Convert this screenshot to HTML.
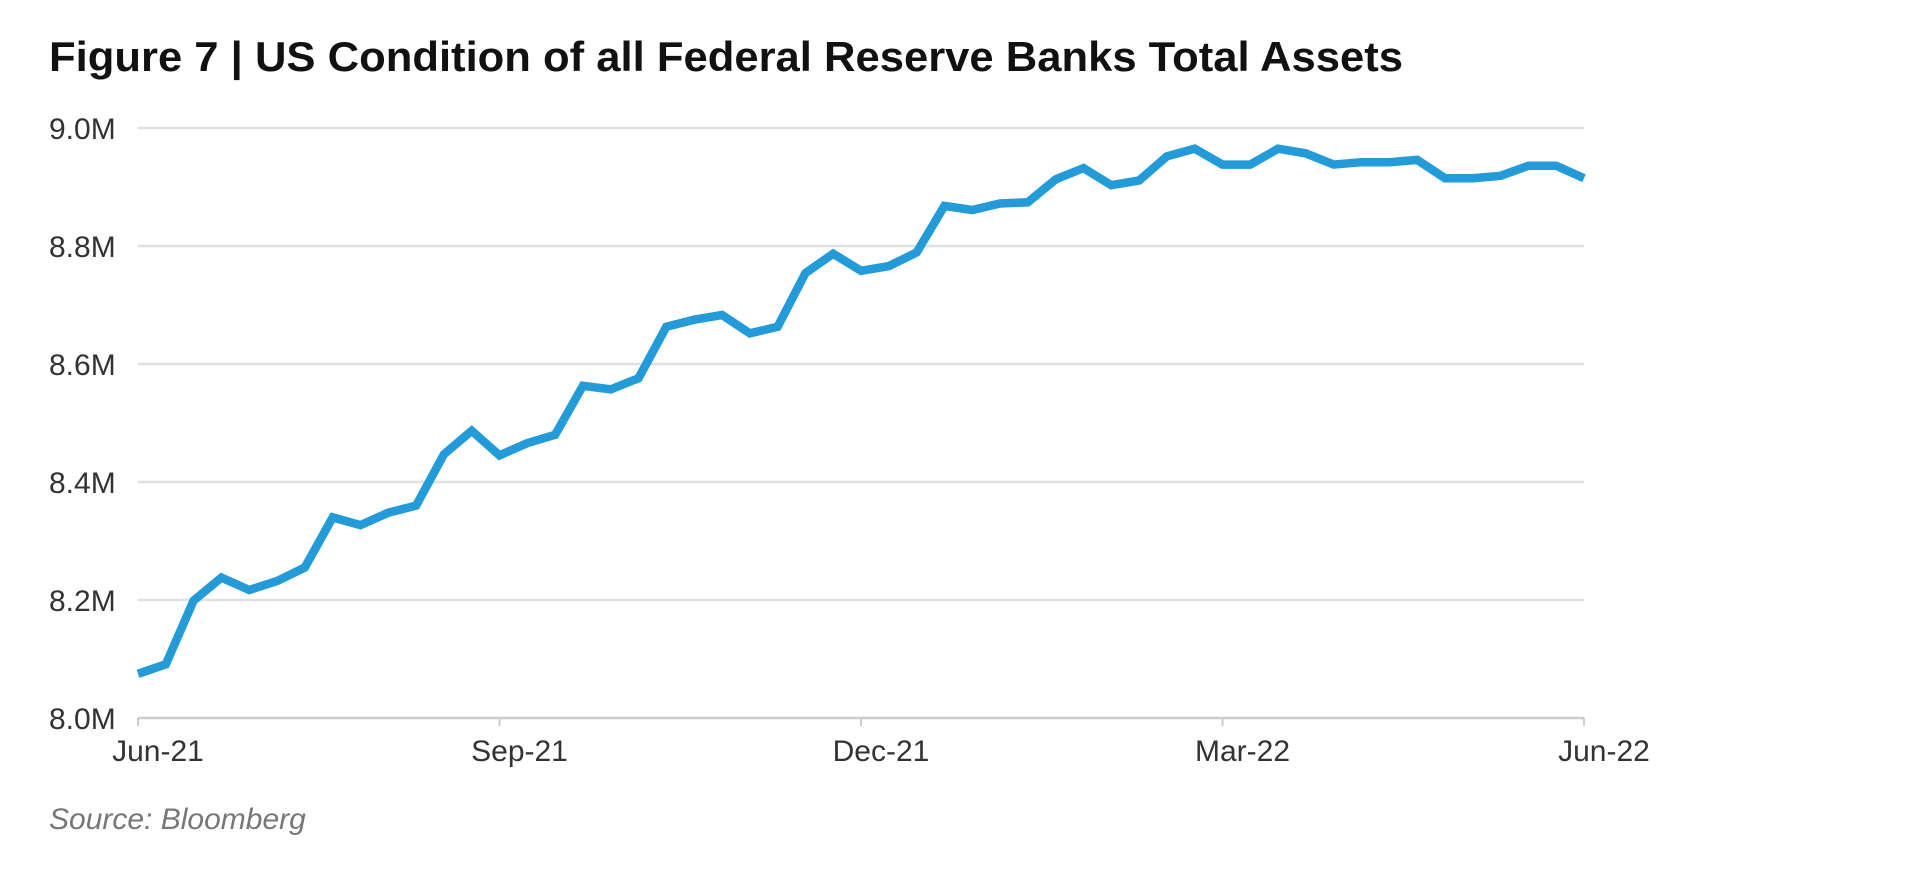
<!DOCTYPE html>
<html><head><meta charset="utf-8"><style>
body{margin:0;background:#fff;width:1913px;height:865px;overflow:hidden;font-family:"Liberation Sans",sans-serif}
</style></head><body>
<svg width="1913" height="865" xmlns="http://www.w3.org/2000/svg">
<text x="49" y="71" font-size="42" font-weight="bold" fill="#111" font-family="Liberation Sans,sans-serif" textLength="1354" lengthAdjust="spacingAndGlyphs">Figure 7 | US Condition of all Federal Reserve Banks Total Assets</text>
<g id="grid"></g><g id="yt"></g><g id="xt"></g>
<path id="line" fill="none" stroke="#229bd8" stroke-width="8.5" stroke-linejoin="miter"/>
<text x="49" y="829" font-size="30" font-style="italic" fill="#777">Source: Bloomberg</text>
</svg>
<script>
const values=[8.075,8.091,8.199,8.238,8.217,8.232,8.255,8.340,8.327,8.348,8.360,8.447,8.487,8.445,8.466,8.480,8.563,8.557,8.576,8.663,8.675,8.683,8.652,8.663,8.754,8.787,8.758,8.766,8.789,8.868,8.861,8.872,8.874,8.913,8.932,8.903,8.911,8.952,8.965,8.938,8.938,8.965,8.957,8.938,8.942,8.942,8.946,8.915,8.915,8.919,8.936,8.936,8.915];
const yTicks=[8.0,8.2,8.4,8.6,8.8,9.0];
const yTickLabels=["8.0M","8.2M","8.4M","8.6M","8.8M","9.0M"];
const xTickLabels=["Jun-21","Sep-21","Dec-21","Mar-22","Jun-22"];
const X0=138,X1=1584,Y0=718,Y1=128;
const ys=v=>Y0-(v-8.0)/(1.0)*(Y0-Y1);
const xs=i=>X0+i*(X1-X0)/(values.length-1);
const xt=f=>X0+f*(X1-X0);
const NS="http://www.w3.org/2000/svg";
const grid=document.getElementById('grid'),yt=document.getElementById('yt'),xtg=document.getElementById('xt');
yTicks.forEach((t,k)=>{
 const l=document.createElementNS(NS,'line');
 l.setAttribute('x1',X0);l.setAttribute('x2',X1);l.setAttribute('y1',ys(t));l.setAttribute('y2',ys(t));
 l.setAttribute('stroke',k==0?'#ccc':'#e0e0e0');l.setAttribute('stroke-width','2.5');
 
 
 grid.appendChild(l);
 const tx=document.createElementNS(NS,'text');
 tx.setAttribute('x',49);tx.setAttribute('y',ys(t)+11);tx.setAttribute('font-size','30');tx.setAttribute('fill','#333');
 tx.textContent=yTickLabels[k];
 
 
 yt.appendChild(tx);
});
xTickLabels.forEach((s,k)=>{
 const x=xt(k/(xTickLabels.length-1));
 const l=document.createElementNS(NS,'line');
 l.setAttribute('x1',x);l.setAttribute('x2',x);l.setAttribute('y1',Y0);l.setAttribute('y2',Y0+8);
 l.setAttribute('stroke','#ccc');l.setAttribute('stroke-width','2');
 
 
 xtg.appendChild(l);
 const tx=document.createElementNS(NS,'text');
 tx.setAttribute('x',x+20);tx.setAttribute('y',761);tx.setAttribute('font-size','30');tx.setAttribute('fill','#333');tx.setAttribute('text-anchor','middle');
 tx.textContent=s;
 
 
 xtg.appendChild(tx);
});
document.getElementById('line').setAttribute('d',values.map((v,i)=>(i?'L':'M')+xs(i).toFixed(1)+','+ys(v).toFixed(1)).join(''));
</script>
</body></html>
